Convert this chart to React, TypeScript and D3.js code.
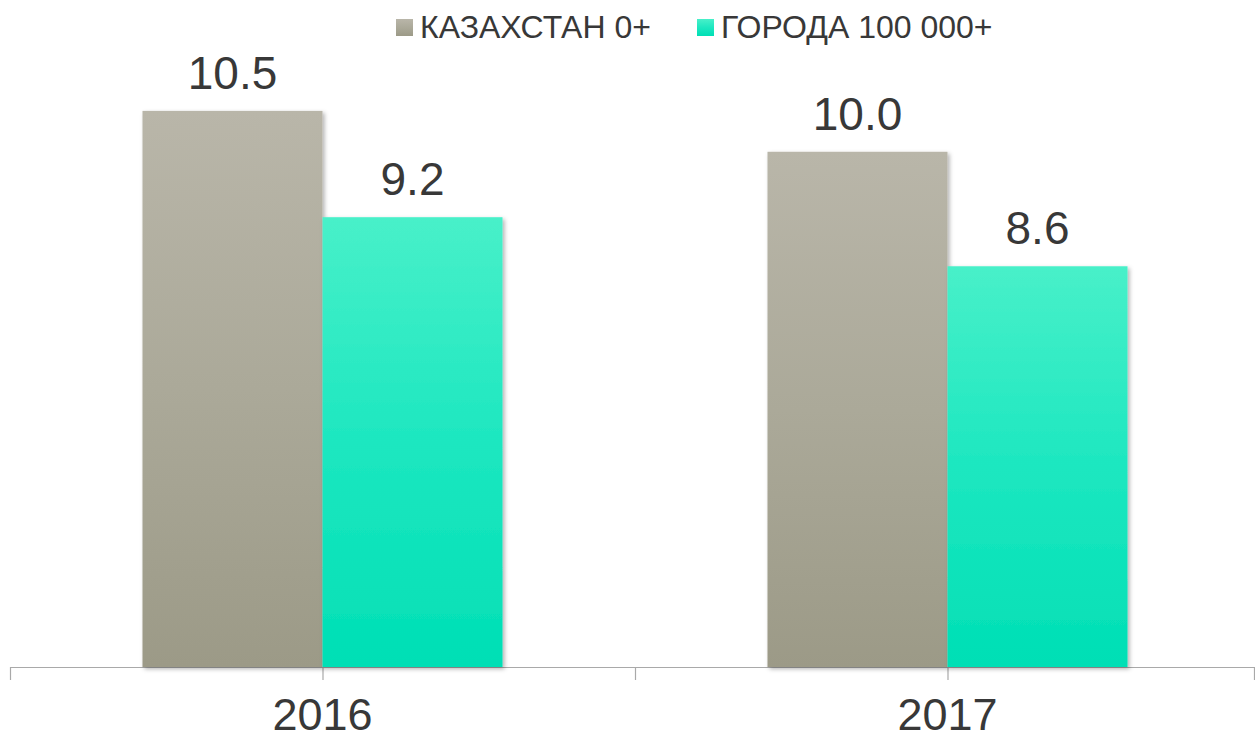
import { useEffect, useRef } from 'react'
import * as d3 from 'd3'

const years = ['2016', '2017']
const seriesNames = ['КАЗАХСТАН 0+', 'ГОРОДА 100 000+']
const kazakhstan = [10.5, 10.0]
const cities = [9.2, 8.6]

const W = 1255
const H = 741
const baseY = 667

export default function App() {
  const svgRef = useRef<SVGSVGElement>(null)

  useEffect(() => {
    if (!svgRef.current) return
    const svg = d3.select(svgRef.current)
    svg.selectAll('*').remove()

    const font = '"Liberation Sans", Arial, sans-serif'
    const textColor = '#383838'

    const x0 = d3.scaleBand<string>().domain(years).range([10, 1260]).padding(0)
    const x1 = d3.scaleBand<string>().domain(seriesNames).range([0, x0.bandwidth()]).paddingInner(0).paddingOuter(0.736)
    const y = d3.scaleLinear().domain([3.7, 11]).range([baseY, 70])

    const defs = svg.append('defs')
    const grads = [
      { id: 'gGray', top: '#b9b6a9', bottom: '#9c9a87', mid: '#aba999' },
      { id: 'gTeal', top: '#48f0c9', bottom: '#00dfb5', mid: '#1de7c0' },
    ]
    grads.forEach(g => {
      const lg = defs.append('linearGradient').attr('id', g.id)
        .attr('x1', 0).attr('y1', 0).attr('x2', 0).attr('y2', 1)
      lg.append('stop').attr('offset', '0%').attr('stop-color', g.top)
      lg.append('stop').attr('offset', '50%').attr('stop-color', g.mid)
      lg.append('stop').attr('offset', '100%').attr('stop-color', g.bottom)
    })
    defs.append('filter').attr('id', 'shadow')
      .attr('x', '-10%').attr('y', '-10%').attr('width', '120%').attr('height', '120%')
      .append('feDropShadow')
      .attr('dx', 2).attr('dy', 2).attr('stdDeviation', 2)
      .attr('flood-color', '#000').attr('flood-opacity', 0.3)

    const series = [
      { name: seriesNames[0], values: kazakhstan, fill: 'url(#gGray)' },
      { name: seriesNames[1], values: cities, fill: 'url(#gTeal)' },
    ]

    // axis line and ticks
    svg.append('line')
      .attr('x1', 10).attr('x2', W).attr('y1', baseY + 0.5).attr('y2', baseY + 0.5)
      .attr('stroke', '#a9a9a9').attr('stroke-width', 1.2)
    const tickXs: number[] = []
    years.forEach(yr => {
      const s = x0(yr)!
      tickXs.push(s, s + x0.bandwidth() / 2)
    })
    tickXs.push(x0.range()[1] - 6)
    svg.selectAll('line.tick').data(tickXs).enter().append('line')
      .attr('class', 'tick')
      .attr('x1', d => d + 0.5).attr('x2', d => d + 0.5)
      .attr('y1', baseY).attr('y2', baseY + 13)
      .attr('stroke', '#a9a9a9').attr('stroke-width', 1.2)

    // bars
    series.forEach(s => {
      const g = svg.append('g')
      g.selectAll('rect').data(s.values).enter().append('rect')
        .attr('x', (_, i) => x0(years[i])! + x1(s.name)!)
        .attr('y', d => y(d))
        .attr('width', x1.bandwidth())
        .attr('height', d => baseY - y(d))
        .attr('fill', s.fill)
        .attr('filter', 'url(#shadow)')
      g.selectAll('text').data(s.values).enter().append('text')
        .attr('x', (_, i) => x0(years[i])! + x1(s.name)! + x1.bandwidth() / 2)
        .attr('y', d => y(d) - 22)
        .attr('text-anchor', 'middle')
        .attr('font-family', font).attr('font-size', 46)
        .attr('fill', textColor)
        .text(d => d.toFixed(1))
    })

    // category labels
    svg.selectAll('text.year').data(years).enter().append('text')
      .attr('class', 'year')
      .attr('x', d => x0(d)! + x0.bandwidth() / 2)
      .attr('y', 730)
      .attr('text-anchor', 'middle')
      .attr('font-family', font).attr('font-size', 45)
      .attr('fill', textColor)
      .text(d => d)

    // legend
    const legendX = [396, 697]
    series.forEach((s, i) => {
      const lg = svg.append('g').attr('transform', `translate(${legendX[i]},19)`)
      lg.append('rect').attr('width', 17).attr('height', 17).attr('fill', s.fill)
      lg.append('text').attr('x', 24).attr('y', 19)
        .attr('font-family', font).attr('font-size', 32)
        .attr('fill', textColor)
        .text(s.name)
    })
  }, [])

  return <svg ref={svgRef} width={W} height={H} style={{ position: 'absolute', left: 0, top: 0, background: '#fff' }} />
}
